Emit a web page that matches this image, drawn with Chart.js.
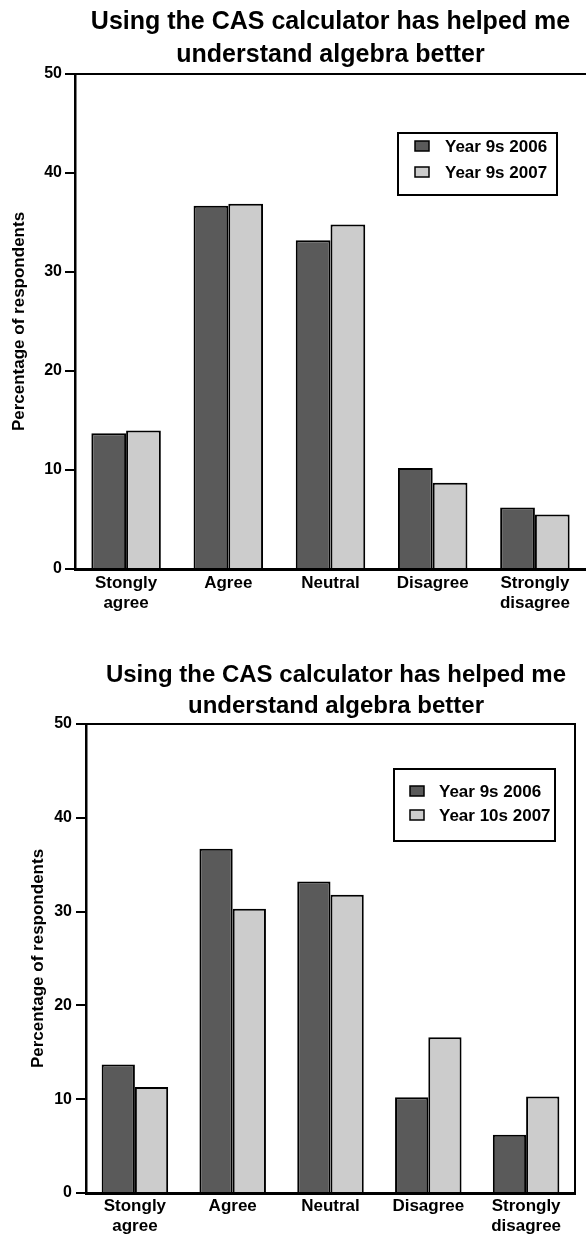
<!DOCTYPE html>
<html>
<head>
<meta charset="utf-8">
<script src="https://cdn.jsdelivr.net/npm/chart.js@4"></script>
<style>
    body { margin: 0; background: #fff; }
    .block { position: relative; width: 586px; }
    .title {
        position: absolute; right: 0; text-align: center;
        font-family: "Liberation Sans", Arial, sans-serif; font-weight: bold; color: #000;
    }
    canvas { display: block; }
</style>
</head>
<body>
<div class="block" style="height:620px">
    <div class="title" style="left:75px; top:4px; font-size:25px; line-height:33px">Using the CAS calculator has helped me<br>understand algebra better</div>
    <canvas id="chart1" width="586" height="620"></canvas>
</div>
<div class="block" style="height:615px">
    <div class="title" style="left:86px; top:38px; font-size:24px; line-height:31px">Using the CAS calculator has helped me<br>understand algebra better</div>
    <canvas id="chart2" width="586" height="615"></canvas>
</div>
<script>
const categories = [["Stongly", "agree"], "Agree", "Neutral", "Disagree", ["Strongly", "disagree"]];
const year9s2006 = [13.7, 36.7, 33.2, 10.2, 6.2];
const year9s2007 = [14.0, 36.9, 34.8, 8.7, 5.5];
const year10s2007 = [11.3, 30.3, 31.8, 16.6, 10.3];
const yTicks = [0, 10, 20, 30, 40, 50];

const FONT = "'Liberation Sans', Arial, sans-serif";
const DARK = "#5a5a5a";
const LIGHT = "#cccccc";

// top + right frame lines and the boxed legend
const framePlugin = {
    id: "frame",
    afterDraw(chart, args, opts) {
        const ctx = chart.ctx;
        const a = chart.chartArea;
        ctx.save();
        ctx.strokeStyle = "#000";
        ctx.lineWidth = 2;
        ctx.beginPath();
        ctx.moveTo(a.left, a.top);
        ctx.lineTo(a.right, a.top);
        if (opts.right) ctx.lineTo(a.right, a.bottom);
        ctx.stroke();

        const lg = opts.legend;
        const bx = a.right - lg.right - lg.width;
        const by = a.top + lg.top;
        ctx.lineWidth = 2;
        ctx.strokeRect(bx, by, lg.width, lg.height);
        ctx.font = "bold 17px " + FONT;
        ctx.textBaseline = "middle";
        chart.data.datasets.forEach((ds, i) => {
            const y = by + lg.rows[i];
            ctx.fillStyle = ds.backgroundColor;
            ctx.fillRect(bx + lg.markX, y - 5, 14, 10);
            ctx.lineWidth = 1.5;
            ctx.strokeRect(bx + lg.markX, y - 5, 14, 10);
            ctx.fillStyle = "#000";
            ctx.fillText(ds.label, bx + lg.textX, y + 1);
        });
        ctx.restore();
    }
};

function makeChart(id, second, label2, cfg) {
    return new Chart(document.getElementById(id), {
        type: "bar",
        data: {
            labels: categories,
            datasets: [
                { label: "Year 9s 2006", data: year9s2006, backgroundColor: DARK, borderColor: "#000", borderWidth: 2 },
                { label: label2, data: second, backgroundColor: LIGHT, borderColor: "#000", borderWidth: 2 }
            ]
        },
        options: {
            responsive: false,
            animation: false,
            layout: { padding: { top: cfg.top, right: cfg.right, bottom: 0, left: 0 } },
            datasets: { bar: { categoryPercentage: 0.68, barPercentage: 1 } },
            plugins: {
                legend: { display: false },
                title: { display: false },
                tooltip: { enabled: false },
                frame: { right: cfg.frameRight, legend: cfg.legend }
            },
            scales: {
                x: {
                    grid: { display: false, drawTicks: false },
                    border: { display: true, color: "#000", width: 3 },
                    ticks: { color: "#000", padding: cfg.xPad, font: { family: FONT, size: 17, weight: "bold", lineHeight: 1.18 } },
                    afterFit: (s) => { s.height = cfg.xHeight; }
                },
                y: {
                    min: 0,
                    max: 50,
                    afterBuildTicks: (s) => { s.ticks = yTicks.map(v => ({ value: v })); },
                    grid: { drawOnChartArea: false, drawTicks: true, tickLength: cfg.tickLen, color: "#000", lineWidth: 2 },
                    border: { display: true, color: "#000", width: 2.5 },
                    ticks: { color: "#000", padding: cfg.yPad, font: { family: FONT, size: 16, weight: "bold" } },
                    title: {
                        display: true,
                        text: "Percentage of respondents",
                        color: "#000",
                        padding: { top: cfg.titlePad, bottom: 0 },
                        font: { family: FONT, size: 17, weight: "bold" }
                    },
                    afterFit: (s) => { s.width = cfg.yWidth; }
                }
            }
        },
        plugins: [framePlugin]
    });
}

makeChart("chart1", year9s2007, "Year 9s 2007", {
    top: 74, right: 0, xHeight: 51, xPad: 4, yWidth: 75, tickLen: 10, yPad: 3, titlePad: 9,
    frameRight: false,
    legend: { right: 29, top: 59, width: 159, height: 62, rows: [13, 39], markX: 17, textX: 47 }
});

makeChart("chart2", year10s2007, "Year 10s 2007", {
    top: 104, right: 11, xHeight: 42, xPad: 3, yWidth: 86, tickLen: 10, yPad: 4, titlePad: 28,
    frameRight: true,
    legend: { right: 20, top: 45, width: 161, height: 72, rows: [22, 46], markX: 16, textX: 45 }
});
</script>
</body>
</html>
